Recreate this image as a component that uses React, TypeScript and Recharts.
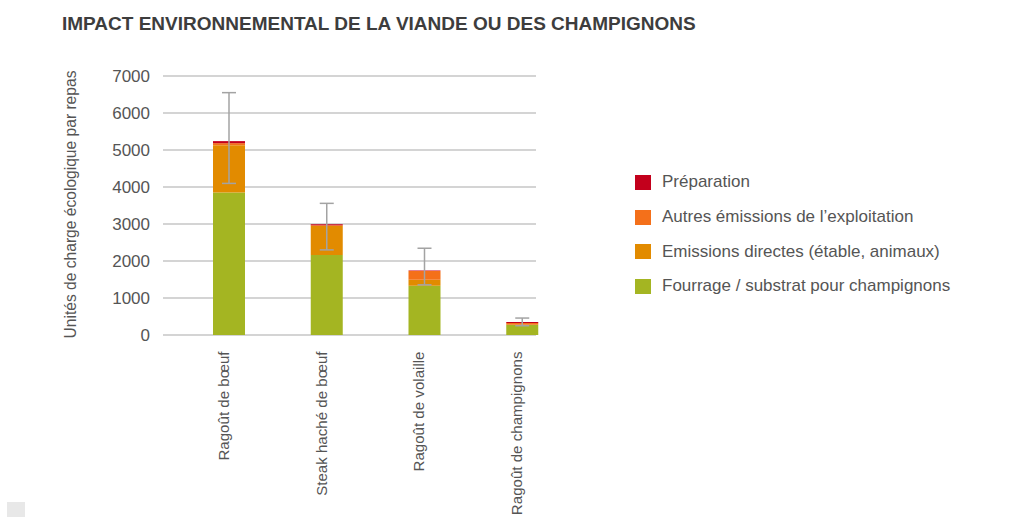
import React from "react";
import { BarChart, Bar, XAxis, YAxis, CartesianGrid, ErrorBar } from "recharts";

const categories = ["Ragoût de bœuf", "Steak haché de bœuf", "Ragoût de volaille", "Ragoût de champignons"];
const fourrage = [3850, 2165, 1330, 275];
const emissionsDirectes = [1280, 780, 160, 0];
const autresEmissions = [55, 20, 240, 50];
const preparation = [55, 30, 10, 25];
const errLow = [1143, 695, 384, 100];
const errHigh = [1310, 563, 605, 108];
const yTicks = [0, 1000, 2000, 3000, 4000, 5000, 6000, 7000];

const seriesNames = {
  preparation: "Préparation",
  autres: "Autres émissions de l’exploitation",
  directes: "Emissions directes (étable, animaux)",
  fourrage: "Fourrage / substrat pour champignons",
};
const colors = {
  preparation: "#c3001c",
  autres: "#f4701a",
  directes: "#e28b00",
  fourrage: "#a4b522",
};

const data = categories.map((name, i) => ({
  name,
  fourrage: fourrage[i],
  directes: emissionsDirectes[i],
  autres: autresEmissions[i],
  preparation: preparation[i],
  err: [errLow[i], errHigh[i]],
}));

const FONT = "'Liberation Sans', Arial, sans-serif";

const XTick = (props: any) => {
  const { x, y, payload } = props;
  return (
    <g transform={`translate(${x},${y})`}>
      <text transform="rotate(-90)" x={-8.5} y={0} textAnchor="end" fill="#555" fontSize={15.1} fontFamily={FONT}>
        {payload.value}
      </text>
    </g>
  );
};

const YLabel = (props: any) => {
  const vb = props.viewBox || {};
  const cx = (vb.x || 0) + 70;
  const cy = (vb.y || 0) + (vb.height || 0) / 2 - 1;
  return (
    <text
      x={cx}
      y={cy}
      transform={`rotate(-90, ${cx}, ${cy})`}
      textAnchor="middle"
      dominantBaseline="central"
      fill="#555"
      fontSize={15.6}
      fontFamily={FONT}
    >
      Unités de charge écologique par repas
    </text>
  );
};

const legendOrder: (keyof typeof seriesNames)[] = ["preparation", "autres", "directes", "fourrage"];

export default function App() {
  return (
    <div style={{ position: "absolute", left: 0, top: 0, width: 1025, height: 517, background: "#fff", fontFamily: FONT, overflow: "hidden" }}>
      <div
        style={{
          position: "absolute",
          left: 62,
          top: 14,
          fontSize: 19,
          lineHeight: "20px",
          fontWeight: "bold",
          color: "#3d3d3d",
          whiteSpace: "nowrap",
        }}
      >
        IMPACT ENVIRONNEMENTAL DE LA VIANDE OU DES CHAMPIGNONS
      </div>
      <BarChart
        width={1000}
        height={517}
        data={data}
        margin={{ top: 76, right: 429, bottom: 152, left: 0 }}
        barSize={32}
      >
        <CartesianGrid
          vertical={false}
          horizontal={(p: any) => (
            <line
              key={p.key ?? `${p.y1}`}
              x1={p.x1}
              x2={p.x2 - 35}
              y1={p.y1}
              y2={p.y2}
              stroke="#d4d4d4"
              strokeWidth={2}
            />
          )}
        />
        <XAxis
          dataKey="name"
          height={30}
          axisLine={false}
          tickLine={false}
          interval={0}
          padding={{ left: 17, right: 0 }}
          tick={<XTick />}
        />
        <YAxis
          width={163}
          domain={[0, 7000]}
          ticks={yTicks}
          axisLine={false}
          tickLine={false}
          tickMargin={7}
          tick={{ fill: "#555", fontSize: 17, fontFamily: FONT }}
          label={<YLabel />}
        />
        <Bar dataKey="fourrage" stackId="a" fill={colors.fourrage} isAnimationActive={false} name={seriesNames.fourrage} />
        <Bar dataKey="directes" stackId="a" fill={colors.directes} isAnimationActive={false} name={seriesNames.directes} />
        <Bar dataKey="autres" stackId="a" fill={colors.autres} isAnimationActive={false} name={seriesNames.autres} />
        <Bar dataKey="preparation" stackId="a" fill={colors.preparation} isAnimationActive={false} name={seriesNames.preparation}>
          <ErrorBar dataKey="err" width={7} stroke="#a3a3a3" strokeWidth={1.5} direction="y" />
        </Bar>
      </BarChart>
      <div style={{ position: "absolute", left: 635, top: 165 }}>
        {legendOrder.map((k) => (
          <div key={k} style={{ display: "flex", alignItems: "center", height: 34.7 }}>
            <div style={{ width: 16, height: 15, background: colors[k], marginRight: 11 }} />
            <span style={{ fontSize: 17, color: "#555", whiteSpace: "nowrap" }}>{seriesNames[k]}</span>
          </div>
        ))}
      </div>
      <div style={{ position: "absolute", left: 7, top: 502, width: 18, height: 15, background: "#e8e8e8" }} />
    </div>
  );
}
